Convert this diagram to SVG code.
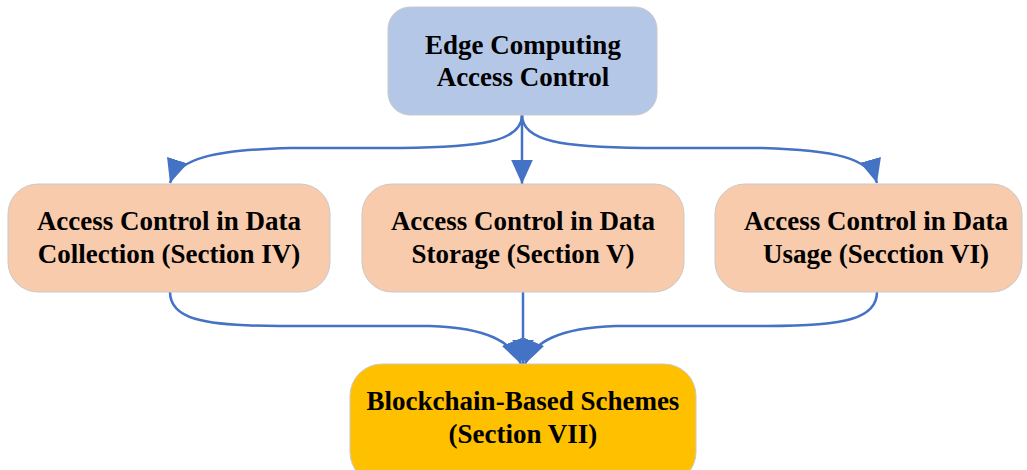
<svg xmlns="http://www.w3.org/2000/svg" width="1027" height="470" viewBox="0 0 1027 470">
<style>
.box{stroke:#C9C9C9;stroke-width:1}
.blue{fill:#B4C7E7}
.peach{fill:#F8CBAD}
.gold{fill:#FFC000}
text{font-family:"Liberation Serif","Times New Roman",serif;font-weight:bold;font-size:27px;fill:#000;text-anchor:middle}
.conn{fill:none;stroke:#4472C4;stroke-width:2.5}
</style>
<defs>
<marker id="ah" markerUnits="userSpaceOnUse" markerWidth="24" markerHeight="24" viewBox="0 0 20 20" refX="20" refY="10" orient="auto">
<path d="M0,1 L20,10 L0,19 Z" fill="#4472C4"/>
</marker>
</defs>
<rect width="1027" height="470" fill="#fff"/>
<g id="connectors">
<path class="conn" d="M522,115 C522,142 480,147 400,148 L290,148 C215,150 178,158 170,183" marker-end="url(#ah)"/>
<path class="conn" d="M522,115 L522,184" marker-end="url(#ah)"/>
<path class="conn" d="M522,115 C522,142 564,147 644,148 L760,148 C835,150 870,158 877,183" marker-end="url(#ah)"/>
<path class="conn" d="M170,292 C170,318 200,326 280,326 L430,326 C488,328 512,342 521,364" marker-end="url(#ah)"/>
<path class="conn" d="M523,292 L523,364" marker-end="url(#ah)"/>
<path class="conn" d="M877,292 C877,318 847,326 767,326 L616,326 C558,328 534,342 525,364" marker-end="url(#ah)"/>
</g>
<g id="n-top">
<rect class="box blue" x="388" y="7" width="269" height="108" rx="22"/>
<text x="523" y="54">Edge Computing</text>
<text x="523" y="86">Access Control</text>
</g>
<g id="n-collection">
<rect class="box peach" x="8" y="184" width="322" height="108" rx="30"/>
<text x="169" y="230">Access Control in Data</text>
<text x="169" y="263">Collection (Section IV)</text>
</g>
<g id="n-storage">
<rect class="box peach" x="362" y="184" width="322" height="108" rx="30"/>
<text x="523" y="230">Access Control in Data</text>
<text x="523" y="263">Storage (Section V)</text>
</g>
<g id="n-usage">
<rect class="box peach" x="715" y="184" width="307" height="108" rx="30"/>
<text x="876" y="230">Access Control in Data</text>
<text x="876" y="263">Usage (Secction VI)</text>
</g>
<g id="n-blockchain">
<rect class="box gold" x="350" y="364" width="346" height="120" rx="32"/>
<text x="523" y="410">Blockchain-Based Schemes</text>
<text x="523" y="443">(Section VII)</text>
</g>
</svg>
